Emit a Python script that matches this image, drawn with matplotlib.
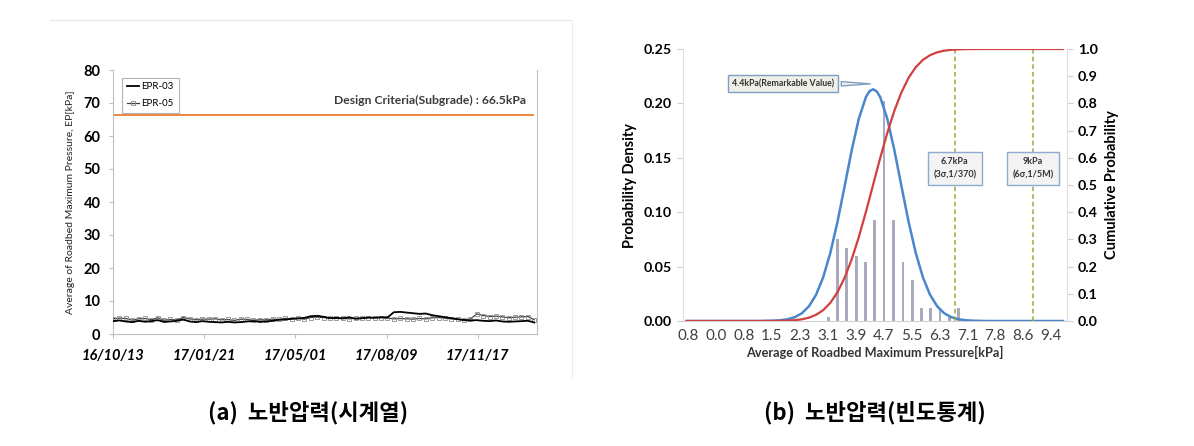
import numpy as np
import matplotlib
matplotlib.use("Agg")
import matplotlib.pyplot as plt
import matplotlib.dates as mdates

# ---------------- data: (a) time series ----------------
start_date = "2016-10-13"
n_weeks = 67
epr03 = [3.9, 4.1, 3.8, 3.6, 4.0, 3.7, 3.9, 4.2, 3.7, 3.8, 4.0, 4.4, 3.8, 3.6, 3.9,
         3.7, 3.6, 3.5, 3.7, 3.5, 3.6, 3.8, 3.9, 3.7, 3.8, 4.0, 4.3, 4.4, 4.6,
         4.7, 4.9, 5.4, 5.5, 5.2, 4.8, 4.9, 4.7, 5.1, 4.6, 4.8, 5.0, 4.9, 5.1,
         5.0, 6.6, 6.7, 6.5, 6.3, 6.1, 6.2, 5.7, 5.4, 5.1, 4.8, 4.5, 4.2, 4.1,
         4.2, 4.0, 3.9, 4.1, 3.8, 3.7, 3.8, 3.9, 4.0, 3.5]
epr05 = [4.6, 4.8, 4.7, 4.2, 4.6, 4.7, 4.3, 4.9, 4.2, 4.4, 4.3, 5.0, 4.6, 4.3, 4.5,
         4.5, 4.6, 4.3, 4.4, 4.1, 4.5, 4.4, 4.2, 4.3, 4.3, 4.5, 4.4, 4.7, 4.6,
         4.8, 4.5, 5.0, 5.1, 5.0, 4.8, 4.7, 4.9, 4.6, 4.8, 4.7, 4.9, 5.0, 4.9,
         4.8, 4.6, 4.7, 4.6, 4.5, 4.7, 4.6, 4.9, 5.0, 4.8, 4.6, 4.4, 4.3, 4.5,
         6.1, 5.6, 5.3, 5.4, 5.2, 4.9, 5.1, 5.2, 5.3, 4.3]
design_criteria = 66.5
date_ticks = ["2016-10-13", "2017-01-21", "2017-05-01", "2017-08-09", "2017-11-17"]

# ---------------- data: (b) frequency statistics ----------------
bar_x = [3.14, 3.40, 3.66, 3.93, 4.19, 4.45, 4.71, 4.97, 5.24, 5.50, 5.76, 6.02, 6.28, 6.54, 6.81]
bar_h = [0.004, 0.075, 0.067, 0.060, 0.054, 0.093, 0.202, 0.093, 0.054, 0.038, 0.012, 0.012, 0.012, 0.004, 0.012]
curve_x = [-0.84, 1.2, 1.6, 1.8, 2.0, 2.2, 2.4, 2.6, 2.8, 3.0, 3.2, 3.4, 3.6, 3.8, 4.0, 4.2, 4.3,
           4.4, 4.5, 4.6, 4.8, 5.0, 5.2, 5.4, 5.6, 5.8, 6.0, 6.2, 6.4, 6.6, 6.8, 7.0, 7.2, 7.6, 9.74]
pdf_y = [0.0, 0.0, 0.0003, 0.0007, 0.0016, 0.0035, 0.0071, 0.0136, 0.0242, 0.0403, 0.0626, 0.0910,
         0.1236, 0.1569, 0.1859, 0.2059, 0.2112, 0.2130, 0.2112, 0.2059, 0.1859, 0.1569, 0.1236,
         0.0910, 0.0626, 0.0403, 0.0242, 0.0136, 0.0071, 0.0035, 0.0016, 0.0007, 0.0003, 0.0, 0.0]
cdf_y = [0.0, 0.0, 0.0002, 0.0006, 0.0013, 0.0030, 0.0062, 0.0122, 0.0228, 0.0401, 0.0668, 0.1056,
         0.1587, 0.2266, 0.3085, 0.4013, 0.4503, 0.5, 0.5497, 0.5987, 0.6915, 0.7734, 0.8413,
         0.8944, 0.9332, 0.9599, 0.9772, 0.9878, 0.9938, 0.9970, 0.9987, 0.9995, 0.9998, 1.0, 1.0]
x_tick_labels = ["0.8", "0.0", "0.8", "1.5", "2.3", "3.1", "3.9", "4.7", "5.5", "6.3", "7.1", "7.8", "8.6", "9.4"]
x_tick_start, x_tick_step = -0.8, 0.785
remark_value = 4.4
remark_label = "4.4kPa(Remarkable Value)"
limit_x = [6.7, 8.9]
limit_labels = ["6.7kPa\n(3σ,1/370)", "9kPa\n(6σ,1/5M)"]

FONT = ["Lato", "DejaVu Sans"]
plt.rcParams["font.family"] = FONT

W, H = 1194, 446
fig = plt.figure(figsize=(W / 100, H / 100), dpi=100)

def fx(px):
    return px / W

def fy(py):
    return 1 - py / H

# ---------------- panel (a) ----------------
axa = fig.add_axes([fx(113), fy(334), fx(537) - fx(113), fy(70) - fy(334)])
t0 = np.datetime64(start_date)
dates = t0 + np.arange(n_weeks) * np.timedelta64(7, "D")
axa.plot(dates, epr05, color="#404040", lw=0.9, marker="s", ms=2.6, mfc="none",
         mec="#8c8c8c", mew=0.6, label="EPR-05", zorder=3)
axa.plot(dates, epr03, color="black", lw=1.3, label="EPR-03", zorder=4)
axa.axhline(design_criteria, xmin=0.005, xmax=0.99, color="#ED7D31", lw=1.3)
axa.set_xlim(t0, t0 + np.timedelta64(465, "D"))
axa.set_ylim(0, 80)
axa.set_yticks(range(0, 81, 10))
axa.set_xticks([np.datetime64(d) for d in date_ticks])
axa.xaxis.set_major_formatter(mdates.DateFormatter("%y/%m/%d"))
for lab in axa.get_xticklabels():
    lab.set_fontstyle("italic")
    lab.set_fontweight("bold")
    lab.set_fontsize(10.5)
for lab in axa.get_yticklabels():
    lab.set_fontweight("bold")
    lab.set_fontsize(10.5)
axa.tick_params(axis="both", colors="#bfbfbf", labelcolor="black", length=3, width=0.8)
axa.tick_params(axis="x", pad=8)
axa.tick_params(axis="y", pad=6)
for s in ["left", "bottom", "right"]:
    axa.spines[s].set_color("#bfbfbf")
axa.spines["top"].set_visible(False)
axa.set_ylabel("Average of Roadbed Maximum Pressure, EP[kPa]", fontsize=7.5, labelpad=6,
               color="#222222")
axa.text(0.975, 0.885, "Design Criteria(Subgrade) : 66.5kPa", transform=axa.transAxes,
         ha="right", va="center", fontsize=8.7, fontweight="bold", color="#3a3a3a")
h, l = axa.get_legend_handles_labels()
leg = axa.legend(h[::-1], l[::-1], loc="upper left", bbox_to_anchor=(0.01, 0.99), fontsize=7,
                 frameon=True, fancybox=False, edgecolor="#a0a0a0", handlelength=1.2,
                 borderpad=0.5, labelspacing=0.8, handletextpad=0.3)
leg.get_frame().set_linewidth(0.8)

# chart-area border (light)
fig.add_artist(plt.Line2D([fx(50), fx(572)], [fy(20), fy(20)], color="#e6e6e6", lw=0.8))
fig.add_artist(plt.Line2D([fx(572), fx(572)], [fy(20), fy(378)], color="#eeeeee", lw=0.8))

# ---------------- panel (b) ----------------
axb = fig.add_axes([fx(683), fy(321), fx(1067) - fx(683), fy(49) - fy(321)])
axr = axb.twinx()
axb.bar(bar_x, bar_h, width=0.075, color="#a9abbd", zorder=2)
axb.plot(curve_x, pdf_y, color="#4a86cc", lw=1.8, zorder=4)
axr.plot(curve_x, cdf_y, color="#d0403f", lw=1.6, zorder=3)
axb.set_xlim(-0.94, 9.85)
axb.set_ylim(0, 0.25)
axr.set_ylim(0, 1.0)
axb.set_yticks(np.arange(0, 0.251, 0.05))
axb.set_yticklabels([f"{v:.2f}" for v in np.arange(0, 0.251, 0.05)])
axr.set_yticks(np.arange(0, 1.01, 0.1))
axr.set_yticklabels([f"{v:.1f}" for v in np.arange(0, 1.01, 0.1)])
axb.set_xticks([x_tick_start + x_tick_step * k for k in range(len(x_tick_labels))])
axb.set_xticklabels(x_tick_labels)
for lab in axb.get_xticklabels():
    lab.set_fontsize(11)
    lab.set_color("#404040")
for ax in (axb, axr):
    for lab in ax.get_yticklabels():
        lab.set_fontweight("bold")
        lab.set_fontsize(10.3)
    for s in ax.spines.values():
        s.set_visible(False)
axb.spines["bottom"].set_visible(True)
axb.spines["bottom"].set_color("#d0d0d0")
axb.spines["left"].set_visible(True)
axb.spines["left"].set_color("#e0e0e0")
axr.spines["right"].set_visible(True)
axr.spines["right"].set_color("#e0e0e0")
axb.tick_params(axis="x", length=0, pad=6)
axb.tick_params(axis="y", colors="#d0d0d0", labelcolor="black", length=4, pad=4)
axr.tick_params(axis="y", colors="#d0d0d0", labelcolor="black", length=4, pad=4)
axb.set_ylabel("Probability Density", fontsize=10.5, fontweight="bold", labelpad=5)
axr.set_ylabel("Cumulative Probability", fontsize=10.5, fontweight="bold", labelpad=5)
axb.set_xlabel("Average of Roadbed Maximum Pressure[kPa]", fontsize=9.2, fontweight="bold",
               color="#333333", labelpad=2)

for xv, txt in zip(limit_x, limit_labels):
    axb.plot([xv, xv], [0, 0.25], color="#9aab3a", lw=1.1, ls=(0, (3, 2)), zorder=5)
    axb.text(xv, 0.1405, txt, ha="center", va="center", fontsize=6.5, fontweight="bold",
             color="#333333", zorder=7, linespacing=1.6,
             bbox=dict(boxstyle="square,pad=0.6", fc="#f3f3f3", ec="#8eaad0", lw=1.0))

axb.annotate(remark_label, xy=(remark_value, 0.218), xytext=(1.87, 0.218),
             ha="center", va="center", fontsize=6.3, fontweight="bold", color="#333333",
             zorder=8,
             bbox=dict(boxstyle="square,pad=0.45", fc="#efefe8", ec="#7f9ec6", lw=1.0),
             arrowprops=dict(arrowstyle="wedge,tail_width=0.5,shrink_factor=0.5",
                             fc="#efefe8", ec="#7f9ec6", lw=1.0))

# ---------------- captions ----------------
KFONT = ["Noto Sans CJK KR", "DejaVu Sans"]
fig.text(fx(308), fy(413), "(a)  노반압력(시계열)", ha="center", va="center",
         fontsize=16, fontweight="bold", family=KFONT)
fig.text(fx(875), fy(413), "(b)  노반압력(빈도통계)", ha="center", va="center",
         fontsize=16, fontweight="bold", family=KFONT)

fig.savefig("out.png", dpi=100)
